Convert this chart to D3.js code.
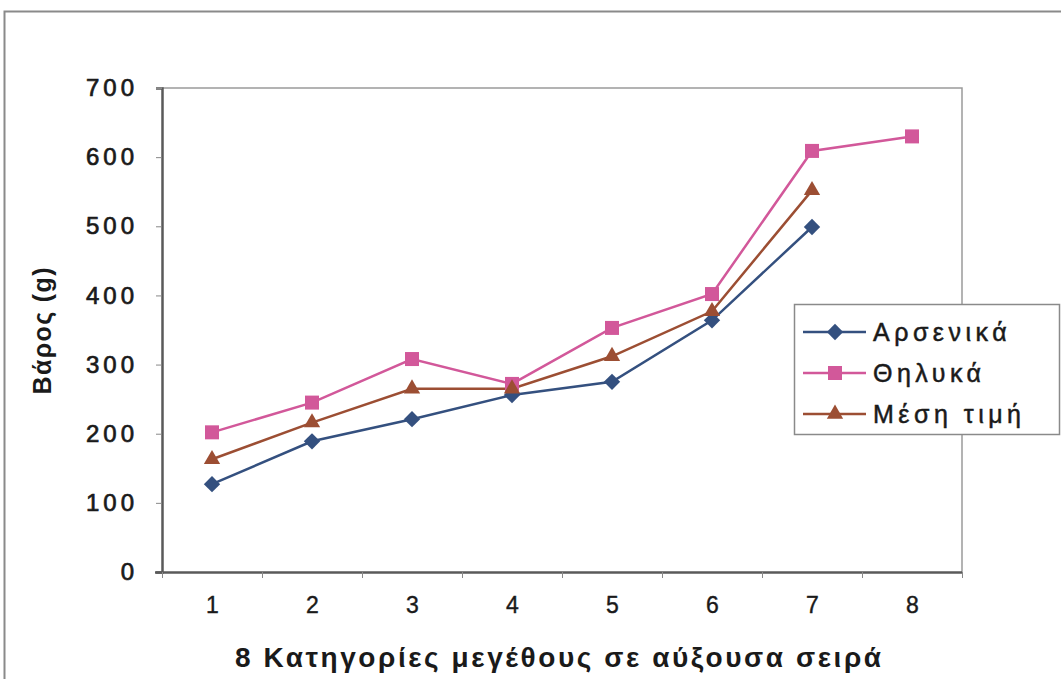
<!DOCTYPE html>
<html>
<head>
<meta charset="utf-8">
<script src="https://cdn.jsdelivr.net/npm/d3@7"></script>
<style>
  body { margin: 0; background: #fff; }
  text { font-family: "Liberation Sans", Arial, sans-serif; fill: #1a1a1a; }
</style>
</head>
<body>
<script>
// chart values
const categories = [1, 2, 3, 4, 5, 6, 7, 8];
const males   = [127, 189, 221, 256, 275, 364, 499, null];
const females = [202, 245, 308, 272, 353, 402, 609, 630];
const means   = [163, 216, 265, 265, 312, 377, 552, null];
const seriesNames = ["Αρσενικά", "Θηλυκά", "Μέση τιμή"];
const yTicks = [0, 100, 200, 300, 400, 500, 600, 700];

const xTitle = "8 Κατηγορίες μεγέθους σε αύξουσα σειρά";
const yTitle = "Βάρος (g)";

window.onload = function () {
    const svg = d3.select('body')
        .append('svg')
        .attr('width', 1061)
        .attr('height', 679);

    // outer frame
    svg.append('path')
        .attr('d', 'M4.5,679 L4.5,11.5 L1061,11.5')
        .attr('fill', 'none')
        .attr('stroke', '#8a8a8a')
        .attr('stroke-width', 2);

    const xScale = d3.scaleLinear()
        .domain([0.5, 8.5])
        .range([162, 962]);

    const yScale = d3.scaleLinear()
        .domain([0, 700])
        .range([572, 88]);

    // plot area top and right edges
    svg.append('path')
        .attr('d', `M${xScale(0.5)},${yScale(700)} L${xScale(8.5)},${yScale(700)} L${xScale(8.5)},${yScale(0)}`)
        .attr('fill', 'none')
        .attr('stroke', '#9a9a9a')
        .attr('stroke-width', 1.5);

    // y axis
    const yAxis = d3.axisLeft(yScale)
        .tickValues(yTicks)
        .tickSize(6)
        .tickPadding(18);
    const gy = svg.append('g')
        .attr('transform', `translate(${xScale(0.5)},0)`)
        .call(yAxis);
    gy.select('.domain').attr('stroke', '#5a5a5a').attr('stroke-width', 2.5);
    gy.selectAll('.tick line').attr('stroke', '#888');
    gy.selectAll('.tick text')
        .attr('font-size', 24)
        .attr('letter-spacing', 4)
        .attr('font-family', '"Liberation Sans", Arial, sans-serif')
        .attr('fill', '#1a1a1a')
        .attr('stroke', '#1a1a1a')
        .attr('stroke-width', 0.7);

    // x axis: tick marks between categories
    const xTickAxis = d3.axisBottom(xScale)
        .tickValues(d3.range(0.5, 9, 1))
        .tickFormat('')
        .tickSize(6)
        .tickSizeOuter(0);
    const gx = svg.append('g')
        .attr('transform', `translate(0,${yScale(0)})`)
        .call(xTickAxis);
    gx.select('.domain').attr('stroke', '#5a5a5a').attr('stroke-width', 2.5)
        .attr('d', `M${xScale(0.5) - 7},0.5H${xScale(8.5)}`);
    gx.selectAll('.tick line').attr('stroke', '#888');

    // x axis labels
    const xLabelAxis = d3.axisBottom(xScale)
        .tickValues(categories)
        .tickFormat(d3.format('d'))
        .tickSize(0)
        .tickPadding(25);
    const gl = svg.append('g')
        .attr('transform', `translate(0,${yScale(0)})`)
        .call(xLabelAxis);
    gl.select('.domain').remove();
    gl.selectAll('.tick text')
        .attr('font-size', 23)
        .attr('font-family', '"Liberation Sans", Arial, sans-serif')
        .attr('fill', '#1a1a1a')
        .attr('stroke', '#1a1a1a')
        .attr('stroke-width', 0.4);

    // axis titles
    svg.append('text')
        .attr('x', 558)
        .attr('y', 667)
        .attr('text-anchor', 'middle')
        .attr('font-size', 28)
        .attr('font-weight', 'bold')
        .attr('textLength', 646)
        .attr('lengthAdjust', 'spacing')
        .text(xTitle);

    svg.append('text')
        .attr('transform', 'translate(51,331) rotate(-90)')
        .attr('text-anchor', 'middle')
        .attr('font-size', 25)
        .attr('font-weight', 'bold')
        .attr('textLength', 127)
        .attr('lengthAdjust', 'spacing')
        .text(yTitle);

    const series = [
        { name: seriesNames[0], values: males,   color: '#34507f', marker: d3.symbolDiamond2, size: 170 },
        { name: seriesNames[1], values: females, color: '#d2589a', marker: d3.symbolSquare2,  size: 250 },
        { name: seriesNames[2], values: means,   color: '#9c4e33', marker: d3.symbolTriangle2, size: 190 }
    ];

    const line = d3.line()
        .defined(d => d.v !== null)
        .x(d => xScale(d.c))
        .y(d => yScale(d.v));

    series.forEach(s => {
        const pts = categories.map((c, i) => ({ c: c, v: s.values[i] }));
        svg.append('path')
            .datum(pts)
            .attr('fill', 'none')
            .attr('stroke', s.color)
            .attr('stroke-width', 2.5)
            .attr('d', line);
    });

    series.forEach(s => {
        const pts = categories.map((c, i) => ({ c: c, v: s.values[i] })).filter(d => d.v !== null);
        svg.selectAll(null)
            .data(pts)
            .enter()
            .append('path')
            .attr('transform', d => `translate(${xScale(d.c)},${yScale(d.v)})`)
            .attr('d', d3.symbol().type(s.marker).size(s.size))
            .attr('fill', s.color)
            .attr('stroke', 'none');
    });

    // legend
    const legend = svg.append('g').attr('transform', 'translate(794,304)');
    legend.append('rect')
        .attr('x', 0.5)
        .attr('y', 0.5)
        .attr('width', 265)
        .attr('height', 130)
        .attr('fill', '#fff')
        .attr('stroke', '#8a8a8a')
        .attr('stroke-width', 1.5);

    series.forEach((s, i) => {
        const cy = 28 + i * 41;
        legend.append('line')
            .attr('x1', 9)
            .attr('x2', 72)
            .attr('y1', cy)
            .attr('y2', cy)
            .attr('stroke', s.color)
            .attr('stroke-width', 2.5);
        legend.append('path')
            .attr('transform', `translate(41,${cy})`)
            .attr('d', d3.symbol().type(s.marker).size(s.size))
            .attr('fill', s.color);
        legend.append('text')
            .attr('x', 79)
            .attr('y', cy + 9)
            .attr('font-size', 25)
            .attr('letter-spacing', 4.5)
            .attr('stroke', '#1a1a1a')
            .attr('stroke-width', 0.5)
            .text(s.name);
    });
};
</script>
</body>
</html>
